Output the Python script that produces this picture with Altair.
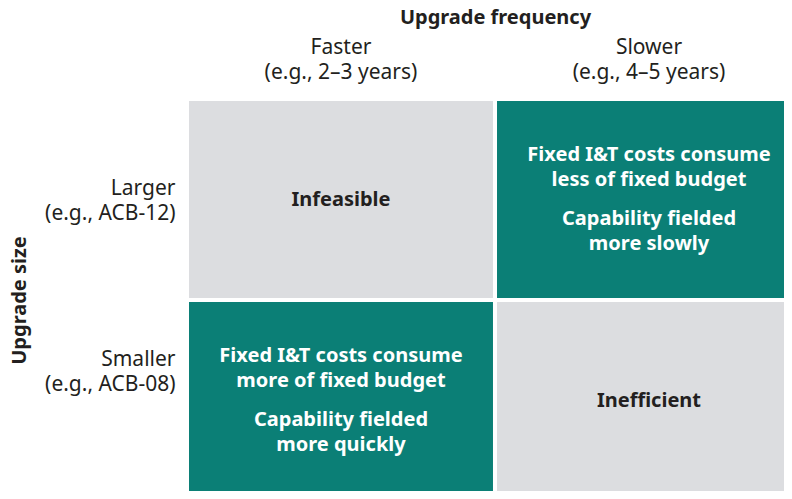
import altair as alt
import pandas as pd

col_names = ["Faster", "Slower"]
col_notes = ["(e.g., 2–3 years)", "(e.g., 4–5 years)"]
row_names = ["Larger", "Smaller"]
row_notes = ["(e.g., ACB-12)", "(e.g., ACB-08)"]

cell_col = [0, 1, 0, 1]
cell_row = [0, 0, 1, 1]
cell_kind = ["gray", "teal", "teal", "gray"]
cell_main = ["Infeasible", "Fixed I&T costs consume\nless of fixed budget",
             "Fixed I&T costs consume\nmore of fixed budget", "Inefficient"]
cell_second = ["", "Capability fielded\nmore slowly", "Capability fielded\nmore quickly", ""]

cols = [f"{n}|{m}" for n, m in zip(col_names, col_notes)]
rows = [f"{n}|{m}" for n, m in zip(row_names, row_notes)]

df = pd.DataFrame({
    "col": [cols[i] for i in cell_col],
    "row": [rows[i] for i in cell_row],
    "kind": cell_kind,
    "main": cell_main,
    "second": cell_second,
})

FONT = "Noto Sans"
DARK = "#231f20"
GRAY = "#dcdde0"
TEAL = "#0b7f76"

x = alt.X("col:N", sort=cols,
          scale=alt.Scale(domain=cols, range=[0, 612], paddingInner=4 / 306, paddingOuter=0),
          axis=alt.Axis(orient="top", title="Upgrade frequency", labelExpr="split(datum.label, '|')",
                        labelAngle=0, labelFontSize=21, labelLineHeight=25, labelPadding=48,
                        labelBaseline="alphabetic",
                        labelColor=DARK, ticks=False, domain=False,
                        titleFontSize=20, titleFontWeight="bold", titleColor=DARK,
                        titleX=306, titleY=-78, titleAlign="center", titleBaseline="alphabetic"))
y = alt.Y("row:N", sort=rows,
          scale=alt.Scale(domain=rows, range=[0, 398], paddingInner=4 / 201, paddingOuter=0),
          axis=alt.Axis(title="Upgrade size", labelExpr="split(datum.label, '|')",
                        labelFontSize=21, labelLineHeight=25, labelPadding=14,
                        labelBaseline="alphabetic",
                        labelOffset={"condition": {"test": f"datum.value == '{rows[0]}'", "value": -4.5},
                                     "value": -34.5},
                        labelColor=DARK, ticks=False, domain=False,
                        titleFontSize=20, titleFontWeight="bold", titleColor=DARK,
                        titleX=-170, titleY=199, titleAngle=-90,
                        titleAlign="center", titleBaseline="middle"))

base = alt.Chart(df).encode(x=x, y=y)

rects = base.mark_rect().encode(
    color=alt.Color("kind:N", scale=alt.Scale(domain=["gray", "teal"], range=[GRAY, TEAL]), legend=None),
)

gray_text = base.transform_filter(alt.datum.kind == "gray").mark_text(
    font=FONT, fontSize=20, fontWeight="bold", color=DARK, baseline="middle"
).encode(text="main:N")

teal_main = base.transform_filter(alt.datum.kind == "teal").mark_text(
    font=FONT, fontSize=20, fontWeight="bold", color="white", baseline="middle",
    lineBreak="\n", lineHeight=25, dy=-45
).encode(text="main:N")

teal_second = base.transform_filter(alt.datum.kind == "teal").mark_text(
    font=FONT, fontSize=20, fontWeight="bold", color="white", baseline="middle",
    lineBreak="\n", lineHeight=25, dy=19
).encode(text="second:N")

chart = alt.layer(rects, gray_text, teal_main, teal_second).properties(
    width=595, height=390,
    autosize=alt.AutoSizeParams(type="none"),
    padding={"left": 181, "top": 93, "right": 0, "bottom": 0},
).configure_view(stroke=None).configure_axis(labelFont=FONT, titleFont=FONT)

chart.save("out.html", embed_options={"renderer": "svg", "actions": False})
